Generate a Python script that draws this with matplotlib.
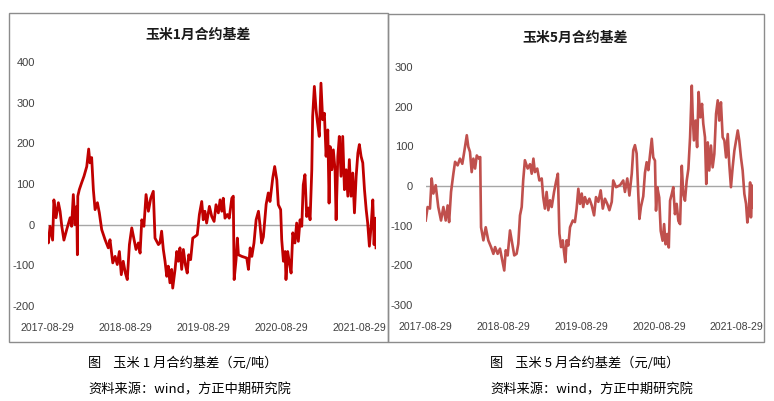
import matplotlib
matplotlib.use("Agg")
import matplotlib.pyplot as plt
from matplotlib.patches import Rectangle
import pandas as pd

# 玉米1月合约基差 (元/吨), values
jan_dates = ['2017-08-29', '2017-09-02', '2017-09-10', '2017-09-22', '2017-09-28', '2017-10-08', '2017-10-19',
             '2017-10-27', '2017-11-04', '2017-11-14', '2017-11-27', '2017-12-13', '2017-12-20', '2017-12-28',
             '2018-01-05', '2018-01-13', '2018-01-16', '2018-01-18', '2018-01-25', '2018-02-05', '2018-02-16',
             '2018-03-01', '2018-03-10', '2018-03-16', '2018-03-24', '2018-04-01', '2018-04-09', '2018-04-20',
             '2018-04-29', '2018-05-10', '2018-05-26', '2018-06-10', '2018-06-18', '2018-07-01', '2018-07-12',
             '2018-07-22', '2018-08-01', '2018-08-10', '2018-08-19', '2018-08-29', '2018-09-07', '2018-09-17',
             '2018-09-28', '2018-10-09', '2018-10-18', '2018-10-29', '2018-11-06', '2018-11-14', '2018-11-24',
             '2018-12-04', '2018-12-15', '2018-12-26', '2019-01-07', '2019-01-15', '2019-01-31', '2019-02-07',
             '2019-02-15', '2019-02-23', '2019-03-03', '2019-03-11', '2019-03-18', '2019-03-26', '2019-04-03',
             '2019-04-08', '2019-04-19', '2019-04-27', '2019-05-04', '2019-05-12', '2019-05-20', '2019-05-28',
             '2019-06-06', '2019-06-15', '2019-06-22', '2019-07-01', '2019-07-11', '2019-07-22', '2019-08-01',
             '2019-08-11', '2019-08-22', '2019-08-29', '2019-09-06', '2019-09-14', '2019-09-27', '2019-10-08',
             '2019-10-19', '2019-10-28', '2019-11-08', '2019-11-16', '2019-11-24', '2019-12-01', '2019-12-09',
             '2019-12-20', '2019-12-29', '2020-01-10', '2020-01-17', '2020-01-21', '2020-01-30', '2020-02-05',
             '2020-02-10', '2020-02-26', '2020-03-20', '2020-03-28', '2020-04-05', '2020-04-13', '2020-04-23',
             '2020-05-03', '2020-05-14', '2020-05-21', '2020-05-29', '2020-06-06', '2020-06-19', '2020-06-29',
             '2020-07-07', '2020-07-20', '2020-07-29', '2020-08-08', '2020-08-15', '2020-08-26', '2020-08-31',
             '2020-09-08', '2020-09-16', '2020-09-20', '2020-09-28', '2020-10-06', '2020-10-14', '2020-10-22',
             '2020-11-01', '2020-11-09', '2020-11-17', '2020-11-25', '2020-12-03', '2020-12-10', '2020-12-18',
             '2020-12-26', '2021-01-03', '2021-01-11', '2021-01-19', '2021-01-23', '2021-01-31', '2021-02-08',
             '2021-02-14', '2021-02-23', '2021-03-03', '2021-03-11', '2021-03-19', '2021-03-27', '2021-04-04',
             '2021-04-10', '2021-04-15', '2021-04-23', '2021-04-30', '2021-05-08', '2021-05-13', '2021-05-21',
             '2021-05-28', '2021-06-05', '2021-06-13', '2021-06-21', '2021-06-29', '2021-07-07', '2021-07-14',
             '2021-07-22', '2021-07-30', '2021-08-07', '2021-08-15', '2021-08-23', '2021-08-30', '2021-09-07',
             '2021-09-15', '2021-09-23', '2021-10-01', '2021-10-08', '2021-10-16', '2021-10-24', '2021-11-01',
             '2021-11-07', '2021-11-13', '2021-11-16']
jan_basis = [-30, -45, -4, -38, 61, 17, 54, 33, -4, -38, -12, 17, -4, 74,
             0, 45, -74, 70, 86, 103, 119, 143, 186, 152, 165, 86, 37, 54,
             29, -12, -37, -57, -37, -94, -78, -98, -66, -123, -90, -119, -135, -49,
             -8, -37, -61, -45, -70, 12, -4, 74, 33, 65, 82, -33, -49, -45,
             -16, -61, -90, -127, -102, -143, -110, -156, -110, -66, -90, -57, -110, -61,
             -98, -119, -74, -86, -33, -29, -25, 25, 57, 12, 33, 4, 45, 20,
             8, 49, 29, 61, 33, 65, 16, 25, 16, 65, 70, -135, -86, -33,
             -74, -78, -82, -110, -57, -78, -45, 12, 33, 0, -45, -30, 50, 78,
             57, 115, 143, 110, 49, 37, -37, -90, -66, -135, -66, -94, -119, -20,
             -45, 4, -41, 12, -4, 98, 123, 20, 41, 12, 135, 266, 340, 283,
             254, 217, 348, 258, 274, 168, 233, 53, 192, 135, 184, 135, 12, 168,
             217, 119, 217, 86, 135, 70, 160, 70, 127, 29, 119, 176, 197, 168,
             152, 86, 37, 4, -53, -4, 61, -49, 16, -57]

# 玉米5月合约基差 (元/吨)
may_dates = ['2017-08-29', '2017-09-07', '2017-09-18', '2017-09-26', '2017-10-04', '2017-10-15', '2017-10-27',
             '2017-11-09', '2017-11-20', '2017-12-01', '2017-12-10', '2017-12-17', '2017-12-26', '2018-01-06',
             '2018-01-14', '2018-01-26', '2018-02-06', '2018-02-17', '2018-02-26', '2018-03-10', '2018-03-17',
             '2018-03-25', '2018-04-02', '2018-04-10', '2018-04-18', '2018-04-26', '2018-05-06', '2018-05-12',
             '2018-05-16', '2018-05-27', '2018-06-07', '2018-06-19', '2018-07-02', '2018-07-13', '2018-07-21',
             '2018-08-02', '2018-08-13', '2018-08-24', '2018-09-02', '2018-09-09', '2018-09-18', '2018-09-29',
             '2018-10-10', '2018-10-19', '2018-10-30', '2018-11-07', '2018-11-15', '2018-11-23', '2018-11-30',
             '2018-12-08', '2018-12-21', '2019-01-01', '2019-01-09', '2019-01-17', '2019-01-24', '2019-02-04',
             '2019-02-14', '2019-02-25', '2019-03-04', '2019-03-12', '2019-03-20', '2019-03-28', '2019-04-05',
             '2019-04-13', '2019-04-24', '2019-05-03', '2019-05-12', '2019-05-19', '2019-05-27', '2019-06-04',
             '2019-06-11', '2019-06-16', '2019-06-22', '2019-06-30', '2019-07-08', '2019-07-21', '2019-07-31',
             '2019-08-08', '2019-08-16', '2019-08-24', '2019-09-01', '2019-09-08', '2019-09-16', '2019-09-27',
             '2019-10-07', '2019-10-18', '2019-10-29', '2019-11-07', '2019-11-18', '2019-11-29', '2019-12-09',
             '2019-12-19', '2019-12-30', '2020-01-09', '2020-01-20', '2020-01-27', '2020-02-09', '2020-02-28',
             '2020-03-14', '2020-03-22', '2020-04-02', '2020-04-12', '2020-04-23', '2020-04-30', '2020-05-08',
             '2020-05-16', '2020-05-24', '2020-05-29', '2020-06-05', '2020-06-16', '2020-06-24', '2020-07-02',
             '2020-07-10', '2020-07-18', '2020-07-26', '2020-08-02', '2020-08-10', '2020-08-15', '2020-08-21',
             '2020-08-30', '2020-09-06', '2020-09-15', '2020-09-22', '2020-09-29', '2020-10-07', '2020-10-14',
             '2020-10-20', '2020-10-28', '2020-11-04', '2020-11-12', '2020-11-20', '2020-11-28', '2020-12-06',
             '2020-12-14', '2020-12-21', '2020-12-29', '2021-01-06', '2021-01-14', '2021-01-22', '2021-01-30',
             '2021-02-03', '2021-02-09', '2021-02-17', '2021-02-24', '2021-03-03', '2021-03-11', '2021-03-19',
             '2021-03-25', '2021-04-02', '2021-04-08', '2021-04-15', '2021-04-22', '2021-04-30', '2021-05-08',
             '2021-05-16', '2021-05-24', '2021-06-01', '2021-06-08', '2021-06-16', '2021-06-24', '2021-07-02',
             '2021-07-10', '2021-07-18', '2021-07-25', '2021-08-02', '2021-08-10', '2021-08-18', '2021-08-26',
             '2021-09-03', '2021-09-10', '2021-09-18', '2021-09-26', '2021-10-04', '2021-10-12', '2021-10-18',
             '2021-10-25', '2021-10-31', '2021-11-04', '2021-11-10', '2021-11-15']
may_basis = [-87, -53, -57, 19, -19, 2, -53, -87, -53, -87, -49, -91, -15, 31,
             61, 52, 69, 56, 86, 128, 99, 86, 35, 69, 44, 77, 69, 73,
             -104, -137, -104, -137, -154, -171, -154, -171, -158, -188, -213, -162, -175, -112,
             -146, -175, -171, -146, -74, -53, 14, 65, 44, 55, 31, 69, 35, 44,
             14, 19, -28, -57, -15, -61, -36, -53, -15, 10, 31, -120, -154, -137,
             -171, -192, -137, -150, -104, -87, -91, -57, -7, -45, -19, -53, -28, -45,
             -32, -49, -74, -28, -40, -11, -57, -32, -45, -61, -40, 14, -3, 2,
             14, -15, 19, -24, 31, 90, 103, 82, -24, -83, -53, -26, 33, 60,
             40, 80, 119, 72, 64, -62, -3, -29, -113, -138, -96, -147, -121, -155,
             -37, -20, -3, -71, -45, -88, -96, 51, -20, -37, 13, 43, 123, 253,
             182, 115, 165, 98, 237, 173, 207, 157, 123, 5, 110, 39, 102, 47,
             81, 182, 216, 165, 211, 123, 115, 72, 131, 56, -3, 47, 89, 115,
             140, 115, 72, 39, -20, -45, -92, -62, 9, -79, 1, -54]

tick_dates = ['2017-08-29', '2018-08-29', '2019-08-29', '2020-08-29', '2021-08-29']
jan_yticks = [-200, -100, 0, 100, 200, 300, 400]
may_yticks = [-300, -200, -100, 0, 100, 200, 300]
titles = ['玉米1月合约基差', '玉米5月合约基差']
captions = ['图    玉米 1 月合约基差（元/吨）', '图    玉米 5 月合约基差（元/吨）']
source = '资料来源：wind，方正中期研究院'

W, H = 774, 401
cjk = ['Noto Sans CJK SC', 'DejaVu Sans']
plt.rcParams['font.family'] = ['Liberation Sans', 'DejaVu Sans']

fig = plt.figure(figsize=(W / 100, H / 100), dpi=100)


def fx(px):
    return px / W


def fy(py):
    return 1 - py / H


panels = [
    # frame box and plot area in pixels of the 774x401 picture
    dict(box=(9, 13, 388, 342), area=(47.5, 62, 376, 306), dates=jan_dates, vals=jan_basis,
         yticks=jan_yticks, ylim=(-200, 400), color='#C00000', lw=2.0, title=(198, 35), cap_x=88),
    dict(box=(388, 14, 764, 342), area=(425.7, 67, 753.3, 305), dates=may_dates, vals=may_basis,
         yticks=may_yticks, ylim=(-300, 300), color='#C0504D', lw=1.9, title=(575, 38), cap_x=490),
]

for i, p in enumerate(panels):
    bx0, by0, bx1, by1 = p['box']
    fig.patches.append(Rectangle((fx(bx0), fy(by1)), fx(bx1 - bx0), (by1 - by0) / H,
                                 transform=fig.transFigure, fill=False,
                                 edgecolor='#8C8C8C', linewidth=1.0))

    ax0, ay0, ax1, ay1 = p['area']
    ax = fig.add_axes([fx(ax0), fy(ay1), fx(ax1 - ax0), (ay1 - ay0) / H])
    d = pd.to_datetime(p['dates'])
    ax.axhline(0, color='#A6A6A6', linewidth=1.0, zorder=1)
    ax.plot(d, p['vals'], color=p['color'], linewidth=p['lw'], zorder=2)
    ax.set_xlim(d[0], d[-1])
    ax.set_ylim(*p['ylim'])
    ax.set_yticks(p['yticks'])
    ax.set_yticklabels([str(v) for v in p['yticks']])
    td = pd.to_datetime(tick_dates)
    ax.set_xticks(td)
    ax.set_xticklabels(tick_dates)
    for s in ax.spines.values():
        s.set_visible(False)
    ax.tick_params(axis='y', length=0, pad=9, labelsize=8, labelcolor='#404040')
    ax.tick_params(axis='x', length=0, pad=12, labelsize=7.6, labelcolor='#404040')
    ax.patch.set_alpha(0)

    tx, ty = p['title']
    fig.text(fx(tx), fy(ty), titles[i], ha='center', va='center', fontsize=10,
             fontweight='bold', family=cjk, color='#1a1a1a')
    fig.text(fx(p['cap_x']), fy(363), captions[i], ha='left', va='center',
             fontsize=9.5, family=cjk, color='black')
    fig.text(fx(p['cap_x']), fy(390), source, ha='left', va='center',
             fontsize=9.5, family=cjk, color='black')

fig.savefig('out.png', dpi=100, facecolor='white')
